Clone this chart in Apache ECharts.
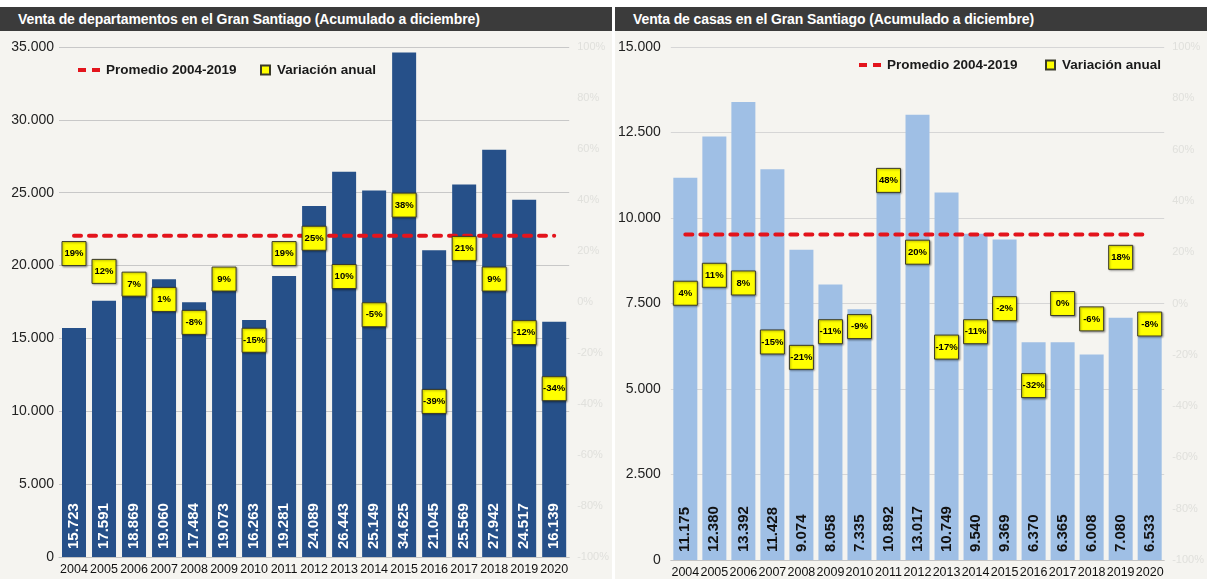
<!DOCTYPE html>
<html>
<head>
<meta charset="utf-8">
<script src="https://cdn.jsdelivr.net/npm/echarts@6/dist/echarts.min.js"></script>
<style>
body { margin: 0; background: #fff; width: 1207px; height: 579px; overflow: hidden; position: relative; }
.panel { position: absolute; top: 7px; height: 572px; background: #f5f4f0; }
.head {
  height: 24px; line-height: 24px; background: #3b3b3b; color: #fff;
  font-family: 'Liberation Sans', Arial, sans-serif;
  font-weight: bold; font-size: 14px; letter-spacing: -0.1px; padding-left: 18px; white-space: nowrap;
}
.chart { width: 100%; height: 548px; }
</style>
</head>
<body>
<div class="panel" style="left:0; width:612px">
  <div class="head">Venta de departamentos en el Gran Santiago (Acumulado a diciembre)</div>
  <div id="chartDeptos" class="chart"></div>
</div>
<div class="panel" style="left:615px; width:592px">
  <div class="head">Venta de casas en el Gran Santiago (Acumulado a diciembre)</div>
  <div id="chartCasas" class="chart"></div>
</div>
<script>
// años
const years = ['2004', '2005', '2006', '2007', '2008', '2009', '2010', '2011', '2012', '2013', '2014', '2015', '2016', '2017', '2018', '2019', '2020']

// departamentos
const ventaDeptos = [15723, 17591, 18869, 19060, 17484, 19073, 16263, 19281, 24089, 26443, 25149, 34625, 21045, 25569, 27942, 24517, 16139]
const variacionDeptos = [19, 12, 7, 1, -8, 9, -15, 19, 25, 10, -5, 38, -39, 21, 9, -12, -34]
const promedioDeptos = [22045, 22045, 22045, 22045, 22045, 22045, 22045, 22045, 22045, 22045, 22045, 22045, 22045, 22045, 22045, 22045, 22045]

// casas
const ventaCasas = [11175, 12380, 13392, 11428, 9074, 8058, 7335, 10892, 13017, 10749, 9540, 9369, 6370, 6365, 6008, 7080, 6533]
const variacionCasas = [4, 11, 8, -15, -21, -11, -9, 48, 20, -17, -11, -2, -32, 0, -6, 18, -8]
const promedioCasas = [9515, 9515, 9515, 9515, 9515, 9515, 9515, 9515, 9515, 9515, 9515, 9515, 9515, 9515, 9515, 9515, 9515]

const fmt = v => String(v).replace(/\B(?=(\d{3})+(?!\d))/g, '.')
const font = "'Liberation Sans', Arial, sans-serif"

function buildOption(cfg) {
  return {
    animation: false,
    textStyle: { fontFamily: font },
    legend: [
      {
        data: [{ name: 'Promedio 2004-2019', icon: 'path://M0,0h8v4h-8zM14,0h8v4h-8z' }],
        left: cfg.legendLeft, top: cfg.legendTop,
        itemWidth: 22, itemHeight: 4, itemGap: 0,
        textStyle: { fontWeight: 'bold', fontSize: 13.5, color: '#1a1a1a', padding: [0, 0, 0, 1] }
      },
      {
        data: ['Variación anual'],
        left: cfg.legend2Left, top: cfg.legendTop,
        itemWidth: 9, itemHeight: 9, itemGap: 0,
        textStyle: { fontWeight: 'bold', fontSize: 13.5, color: '#1a1a1a', padding: [0, 0, 0, 2] }
      }
    ],
    grid: { left: cfg.gridLeft, right: cfg.gridRight, top: 16, bottom: cfg.gridBottom, containLabel: false },
    xAxis: {
      type: 'category',
      data: years,
      axisTick: { show: false },
      axisLine: { lineStyle: { color: '#c4c4c4' } },
      axisLabel: { color: '#111', fontSize: 12.5, margin: 6, interval: 0 }
    },
    yAxis: [
      {
        type: 'value', min: 0, max: cfg.max, interval: cfg.step,
        axisLabel: { formatter: fmt, color: '#222', fontSize: 14, margin: cfg.labelMargin },
        axisLine: { show: false }, axisTick: { show: false },
        splitLine: { lineStyle: { color: cfg.gridColor } }
      },
      {
        type: 'value', min: -100, max: 100, interval: 20, position: 'right',
        axisLabel: { formatter: '{value}%', color: '#e0e0dc', fontSize: 11, margin: 8 },
        axisLine: { show: false }, axisTick: { show: false },
        splitLine: { show: false }
      }
    ],
    series: [
      {
        name: 'Venta',
        type: 'bar',
        data: cfg.venta,
        barWidth: 24,
        itemStyle: { color: cfg.barColor },
        label: {
          show: true, position: 'insideBottom', distance: 8, rotate: 90,
          align: 'left', verticalAlign: 'middle',
          formatter: p => fmt(p.value),
          color: cfg.labelColor, fontWeight: 'bold', fontSize: 15
        }
      },
      {
        name: 'Promedio 2004-2019',
        type: 'line',
        data: cfg.promedio,
        symbol: 'none',
        lineStyle: { color: '#e3141c', width: 4, type: [7, 8], cap: 'round' },
        itemStyle: { color: '#e3141c' },
        z: 3
      },
      {
        name: 'Variación anual',
        type: 'scatter',
        yAxisIndex: 1,
        data: cfg.variacion,
        symbol: 'rect',
        symbolSize: [24, 24],
        itemStyle: {
          color: '#ffff00', borderColor: '#3a3a2a', borderWidth: 1, opacity: 1,
          shadowColor: 'rgba(0,0,0,0.35)', shadowBlur: 2, shadowOffsetX: 1, shadowOffsetY: 1
        },
        label: {
          show: true, position: 'inside',
          formatter: p => p.value + '%',
          color: '#000', fontSize: 9.5, fontWeight: 'bold'
        },
        z: 5
      }
    ]
  }
}

const chartDeptos = echarts.init(document.getElementById('chartDeptos'))
chartDeptos.setOption(buildOption({
  venta: ventaDeptos, variacion: variacionDeptos, promedio: promedioDeptos,
  max: 35000, step: 5000,
  gridLeft: 59, gridRight: 35, gridBottom: 22, labelMargin: 5,
  gridColor: '#c8c8c8', barColor: '#265089', labelColor: '#fff',
  legendLeft: 73, legend2Left: 255, legendTop: 27
}))

const chartCasas = echarts.init(document.getElementById('chartCasas'))
chartCasas.setOption(buildOption({
  venta: ventaCasas, variacion: variacionCasas, promedio: promedioCasas,
  max: 15000, step: 2500,
  gridLeft: 51, gridRight: 28, gridBottom: 17, labelMargin: 10,
  gridColor: '#d6d6d6', barColor: '#9fbfe5', labelColor: '#111',
  legendLeft: 239, legend2Left: 425, legendTop: 22
}))
</script>
</body>
</html>
